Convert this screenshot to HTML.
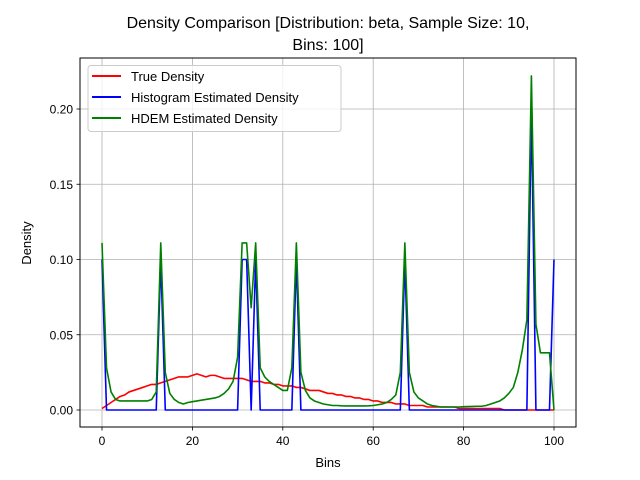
<!DOCTYPE html>
<html><head><meta charset="utf-8"><style>
html,body{margin:0;padding:0;background:#fff;}
svg{display:block;font-family:"Liberation Sans","DejaVu Sans",sans-serif;}
</style></head><body>
<svg id="chart" width="640" height="480" viewBox="0 0 640 480">
<rect width="640" height="480" fill="#fff"/>
<text x="328" y="28" text-anchor="middle" font-size="16" fill="#000">Density Comparison [Distribution: beta, Sample Size: 10,</text>
<text x="328" y="50" text-anchor="middle" font-size="16" fill="#000">Bins: 100]</text>
<g id="grid"></g>
<g id="axes"></g>
<g id="series"></g>
<rect x="80" y="58" width="496" height="369" fill="none" stroke="#000" stroke-width="1"/>
<text x="328" y="467" text-anchor="middle" font-size="13">Bins</text>
<text x="31" y="243" text-anchor="middle" font-size="13" transform="rotate(-90 31 243)">Density</text>
<g>
<rect x="88" y="65.5" width="253" height="66" rx="3" fill="#fff" fill-opacity="0.8" stroke="#ccc"/>
<line x1="92" y1="76" x2="121" y2="76" stroke="red" stroke-width="2"/>
<text x="131" y="81" font-size="13">True Density</text>
<line x1="92" y1="97" x2="121" y2="97" stroke="blue" stroke-width="2"/>
<text x="131" y="102" font-size="13">Histogram Estimated Density</text>
<line x1="92" y1="118" x2="121" y2="118" stroke="green" stroke-width="2"/>
<text x="131" y="123" font-size="13">HDEM Estimated Density</text>
</g>
</svg>
<script>
const xTicks = [0, 20, 40, 60, 80, 100];
const yTicks = [0, 0.05, 0.10, 0.15, 0.20];
const yTickLabels = ["0.00", "0.05", "0.10", "0.15", "0.20"];
const trueDensity = [0.001,0.003,0.005,0.007,0.009,0.010,0.012,0.013,0.014,0.015,0.016,0.017,0.017,0.018,0.019,0.020,0.021,0.022,0.022,0.022,0.023,0.024,0.023,0.022,0.023,0.023,0.022,0.021,0.021,0.021,0.021,0.021,0.020,0.019,0.019,0.019,0.018,0.018,0.017,0.017,0.016,0.016,0.016,0.015,0.015,0.014,0.013,0.013,0.013,0.012,0.011,0.011,0.010,0.010,0.009,0.009,0.008,0.008,0.007,0.007,0.006,0.006,0.005,0.005,0.005,0.004,0.004,0.004,0.003,0.003,0.003,0.003,0.002,0.002,0.002,0.002,0.002,0.002,0.002,0.001,0.001,0.001,0.001,0.001,0.001,0.001,0.001,0.001,0.001,0.000,0.000,0.000,0.000,0.000,0.000,0.000,0.000,0.000,0.000,0.000,0.000];
const histDensity = [0.1,0,0,0,0,0,0,0,0,0,0,0,0,0.1,0,0,0,0,0,0,0,0,0,0,0,0,0,0,0,0,0,0.1,0.1,0,0.1,0,0,0,0,0,0,0,0,0.1,0,0,0,0,0,0,0,0,0,0,0,0,0,0,0,0,0,0,0,0,0,0,0,0.1,0,0,0,0,0,0,0,0,0,0,0,0,0,0,0,0,0,0,0,0,0,0,0,0,0,0,0,0.2,0,0,0,0,0.1];
const hdemDensity = [0.111,0.028,0.012,0.007,0.006,0.006,0.006,0.006,0.006,0.006,0.006,0.007,0.012,0.111,0.025,0.011,0.007,0.005,0.004,0.005,0.0055,0.006,0.0065,0.007,0.0075,0.008,0.009,0.011,0.014,0.019,0.035,0.111,0.111,0.068,0.111,0.028,0.022,0.019,0.017,0.015,0.013,0.013,0.028,0.111,0.025,0.013,0.008,0.006,0.005,0.004,0.0035,0.003,0.003,0.0028,0.0027,0.0027,0.0027,0.0027,0.0027,0.0028,0.003,0.0035,0.004,0.005,0.007,0.010,0.025,0.111,0.025,0.012,0.008,0.006,0.004,0.003,0.0025,0.002,0.002,0.002,0.002,0.002,0.0022,0.0023,0.0024,0.0025,0.0025,0.003,0.004,0.005,0.006,0.008,0.011,0.015,0.025,0.040,0.060,0.222,0.057,0.038,0.038,0.038,0.000];

const NS = "http://www.w3.org/2000/svg";
function sx(v){ return 102 + v * 4.52; }
function sy(v){ return 410 - v * 1505; }
function mk(tag, attrs, parent){ const e = document.createElementNS(NS, tag); for (const k in attrs) e.setAttribute(k, attrs[k]); parent.appendChild(e); return e; }
const grid = document.getElementById('grid');
const axes = document.getElementById('axes');
const series = document.getElementById('series');
xTicks.forEach(function(t){
  const g = mk('line', {x1: sx(t), x2: sx(t), y1: 58, y2: 427, stroke: '#b0b0b0', 'stroke-width': 0.8}, grid);
  
  
  const tk = mk('line', {x1: sx(t), x2: sx(t), y1: 427, y2: 430.5, stroke: '#000', 'stroke-width': 0.8}, axes);
  
  
  const tx = mk('text', {x: sx(t), y: 445, 'text-anchor': 'middle', 'font-size': 12}, axes);
  tx.textContent = String(t);
  
  
});
yTicks.forEach(function(t, i){
  const g = mk('line', {x1: 80, x2: 576, y1: sy(t), y2: sy(t), stroke: '#b0b0b0', 'stroke-width': 0.8}, grid);
  
  
  const tk = mk('line', {x1: 76.5, x2: 80, y1: sy(t), y2: sy(t), stroke: '#000', 'stroke-width': 0.8}, axes);
  
  
  const tx = mk('text', {x: 73, y: sy(t) + 4.5, 'text-anchor': 'end', 'font-size': 12}, axes);
  tx.textContent = yTickLabels[i];
  
  
});
function line(data, color, name){
  const pts = data.map(function(v, i){ return sx(i).toFixed(2) + ',' + sy(v).toFixed(2); }).join(' ');
  const p = mk('polyline', {points: pts, fill: 'none', stroke: color, 'stroke-width': 1.6, 'stroke-linejoin': 'round'}, series);
  
  
}
line(trueDensity, 'red', 'true-density-line');
line(histDensity, 'blue', 'histogram-density-line');
line(hdemDensity, 'green', 'hdem-density-line');
</script>
</body></html>
